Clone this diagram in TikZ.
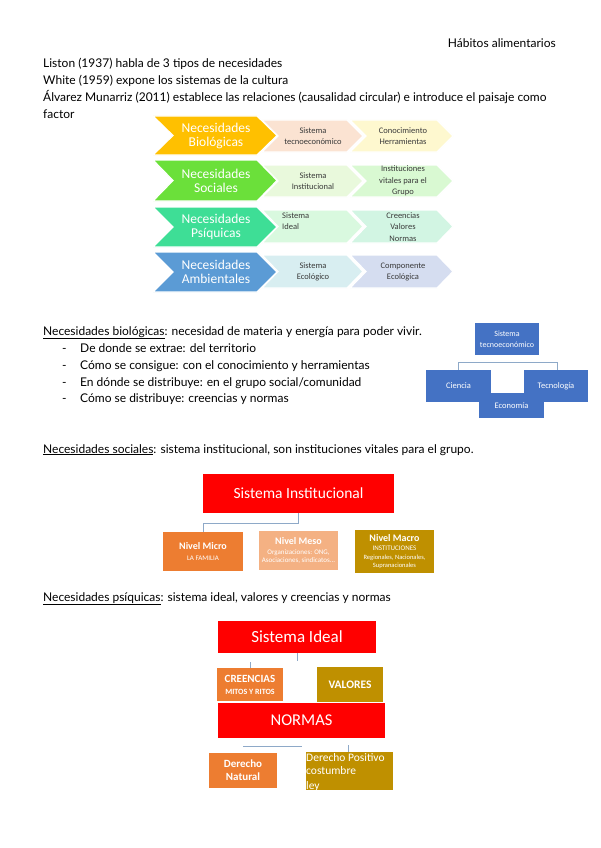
\documentclass[tikz,border=0pt]{standalone}
\usepackage{fontspec}
\setmainfont{Lato}
\newfontfamily\calfont{Carlito}
\definecolor{bigA}{HTML}{FFC000}
\definecolor{bigB}{HTML}{6BE03A}
\definecolor{bigC}{HTML}{3EDE96}
\definecolor{bigD}{HTML}{5B9BD5}
\definecolor{sA1}{HTML}{FBE3D2}
\definecolor{sA2}{HTML}{FEF8CF}
\definecolor{sB1}{HTML}{E9F9DC}
\definecolor{sB2}{HTML}{D9F9D2}
\definecolor{sC1}{HTML}{D9F9DF}
\definecolor{sC2}{HTML}{D2F5E3}
\definecolor{sD1}{HTML}{D8EEF1}
\definecolor{sD2}{HTML}{D5DDF0}
\definecolor{tblue}{HTML}{4472C4}
\definecolor{redbox}{HTML}{FF0000}
\definecolor{orbox}{HTML}{ED7D31}
\definecolor{peachbox}{HTML}{F4B183}
\definecolor{goldbox}{HTML}{BF9000}
\definecolor{conn}{HTML}{8EA9C8}
\definecolor{txtgray}{HTML}{3A3A3A}
\newcommand\chevron[6]{%
  \path[fill=#6, draw=white, line width=1.2pt] (#1,#2) -- ({#3-#5},#2) -- (#3,{(#2+#4)/2}) -- ({#3-#5},#4) -- (#1,#4) -- ({#1+#5},{(#2+#4)/2}) -- cycle;}
\tikzset{
  body/.style={anchor=base west, inner sep=0pt, font=\fontsize{12}{14}\selectfont, text=black},
  bigtxt/.style={align=center, inner sep=0pt, text=white, font=\calfont\fontsize{13.5}{14.5}\selectfont},
  smalltxt/.style={align=center, inner sep=0pt, text=txtgray, font=\calfont\fontsize{8.5}{11.5}\selectfont},
  box/.style={inner sep=0pt, text=white, align=center},
  connline/.style={draw=conn, line width=0.8pt},
}
\begin{document}
\begin{tikzpicture}[x=1pt,y=-1pt]
\useasboundingbox[fill=white] (0,0) rectangle (600,848);

% header
\node[body, anchor=base east] (hdr) at (556,48) {Hábitos alimentarios};
\node[body] (l1) at (43,68) {Liston (1937) habla de 3 tipos de necesidades};
\node[body] (l2) at (43,85) {White (1959) expone los sistemas de la cultura};
\node[body] (l3) at (43,102) {Álvarez Munarriz (2011) establece las relaciones (causalidad circular) e introduce el paisaje como};
\node[body] (l4) at (43,119) {factor};

% chevrons: row 1
\chevron{350}{120}{453}{152}{16}{sA2}
\chevron{262}{120}{363}{152}{16}{sA1}
\chevron{153}{116}{277}{155}{20}{bigA}
% row 2
\chevron{350}{165}{453}{197}{16}{sB2}
\chevron{262}{165}{363}{197}{16}{sB1}
\chevron{153}{160}{277}{201}{20}{bigB}
% row 3
\chevron{350}{210}{453}{243}{16}{sC2}
\chevron{262}{210}{363}{243}{16}{sC1}
\chevron{153}{207}{277}{247}{20}{bigC}
% row 4
\chevron{350}{255}{453}{288}{16}{sD2}
\chevron{262}{255}{363}{288}{16}{sD1}
\chevron{153}{252}{277}{292}{20}{bigD}

\node[bigtxt] (n1) at (216,136) {Necesidades\\Biológicas};
\node[bigtxt] (n2) at (216,181) {Necesidades\\Sociales};
\node[bigtxt] (n3) at (216,227) {Necesidades\\Psíquicas};
\node[bigtxt] (n4) at (216,272) {Necesidades\\Ambientales};

\node[smalltxt] (s1a) at (313,136) {Sistema\\tecnoeconómico};
\node[smalltxt] (s1b) at (403,136) {Conocimiento\\Herramientas};
\node[smalltxt] (s2a) at (313,181) {Sistema\\Institucional};
\node[smalltxt] (s2b) at (403,181) {Instituciones\\vitales para el\\Grupo};
\node[smalltxt, align=left, anchor=west] (s3a) at (282,221) {Sistema\\Ideal};
\node[smalltxt] (s3b) at (403,227) {Creencias\\Valores\\Normas};
\node[smalltxt] (s4a) at (313,272) {Sistema\\Ecológico};
\node[smalltxt] (s4b) at (403,272) {Componente\\Ecológica};

% Necesidades biologicas
\node[body] (nb) at (43,335) {\underline{Necesidades biológicas}: necesidad de materia y energía para poder vivir.};
\node[body] (d1) at (62,352) {-};
\node[body] (i1) at (80,352) {De donde se extrae: del territorio};
\node[body] (d2) at (62,369) {-};
\node[body] (i2) at (80,369) {Cómo se consigue: con el conocimiento y herramientas};
\node[body] (d3) at (62,386) {-};
\node[body] (i3) at (80,386) {En dónde se distribuye: en el grupo social/comunidad};
\node[body] (d4) at (62,402) {-};
\node[body] (i4) at (80,402) {Cómo se distribuye: creencias y normas};

% tecnoeconomico diagram
\node[box, fill=tblue, minimum width=64pt, minimum height=32pt, font=\calfont\fontsize{8}{11}\selectfont] (te) at (507,339) {Sistema\\tecnoeconómico};
\coordinate (hl) at (458,362);
\coordinate (hr) at (557,362);
\node[box, fill=tblue, minimum width=65pt, minimum height=32pt, font=\calfont\fontsize{8.5}{10}\selectfont] (ci) at (458.5,386) {Ciencia};
\node[box, fill=tblue, minimum width=64pt, minimum height=32pt, font=\calfont\fontsize{8.5}{10}\selectfont] (tec) at (556,386) {Tecnología};
\node[box, fill=tblue, minimum width=65pt, minimum height=25pt, font=\calfont\fontsize{8.5}{10}\selectfont] (eco) at (511.5,405.5) {Economía};
\draw[connline] (ci.north -| hl) -- (hl) -- (hr) -- (tec.north -| hr);

% Necesidades sociales
\node[body] (ns) at (43,453) {\underline{Necesidades sociales}: sistema institucional, son instituciones vitales para el grupo.};

\node[box, fill=redbox, minimum width=191pt, minimum height=39pt, font=\calfont\fontsize{15.5}{17}\selectfont] (si) at (298.5,493.5) {Sistema Institucional};
\node[box, fill=orbox, minimum width=80pt, minimum height=39pt, font=\calfont\fontsize{7}{9}\selectfont] (micro) at (203,551.5) {{\fontsize{10}{12}\selectfont\bfseries Nivel Micro}\\[2pt]LA FAMILIA};
\node[box, fill=peachbox, minimum width=79pt, minimum height=39pt, font=\calfont\fontsize{7}{8}\selectfont] (meso) at (298.5,550.5) {{\fontsize{10}{12}\selectfont\bfseries Nivel Meso}\\[2pt]Organizaciones: ONG,\\Asociaciones, sindicatos...};
\node[box, fill=goldbox, minimum width=79pt, minimum height=43pt, font=\calfont\fontsize{6.5}{7.5}\selectfont] (macro) at (394.5,551.5) {{\fontsize{10}{12}\selectfont\bfseries Nivel Macro}\\[1pt]{\fontsize{7}{8}\selectfont INSTITUCIONES}\\[2pt]Regionales, Nacionales,\\Supranacionales};
\coordinate (sij) at (298,523);
\draw[connline] (si.south -| sij) -- (sij) -- (sij -| micro.north) -- (micro.north);

% Necesidades psiquicas
\node[body] (np) at (43,601) {\underline{Necesidades psíquicas}: sistema ideal, valores y creencias y normas};

\node[box, fill=redbox, minimum width=158pt, minimum height=32pt, font=\calfont\fontsize{17}{19}\selectfont] (sid) at (297,637) {Sistema Ideal};
\coordinate (t1) at (297,661);
\draw[connline] (sid.south -| t1) -- (t1);
\node[box, fill=orbox, minimum width=66pt, minimum height=33pt, font=\calfont\bfseries\fontsize{8}{9}\selectfont] (cre) at (250,684.5) {{\fontsize{11}{13}\selectfont CREENCIAS}\\[3pt]MITOS Y RITOS};
\coordinate (t2) at (250,662);
\draw[connline] (t2) -- (cre.north);
\node[box, fill=goldbox, minimum width=66pt, minimum height=35pt, font=\calfont\bfseries\fontsize{11.5}{13}\selectfont] (val) at (350,684.5) {VALORES};
\node[box, fill=redbox, minimum width=167pt, minimum height=35pt, font=\calfont\fontsize{16.5}{18}\selectfont] (nor) at (301.5,720.5) {NORMAS};
\coordinate (h1) at (243,746);
\coordinate (h2) at (302,746);
\draw[connline] (h1) -- (h2);
\node[box, fill=orbox, minimum width=68pt, minimum height=35pt, font=\calfont\bfseries\fontsize{11}{13}\selectfont] (dn) at (243,770.5) {Derecho\\Natural};
\node[box, fill=goldbox, minimum width=87pt, minimum height=38pt] (dp) at (349.5,771) {};
\node[box, anchor=base west, font=\calfont\fontsize{11.5}{13}\selectfont, align=left] (dpt) at (306,761) {Derecho Positivo};
\node[box, anchor=base west, font=\calfont\fontsize{11.5}{13}\selectfont, align=left] (dpc) at (306,774) {costumbre};
\node[box, anchor=base west, font=\calfont\fontsize{11.5}{13}\selectfont, align=left] (dpl) at (306,789) {ley};
\coordinate (t3) at (348,745);
\draw[connline] (t3) -- (t3 |- dp.north);
\end{tikzpicture}
\end{document}
